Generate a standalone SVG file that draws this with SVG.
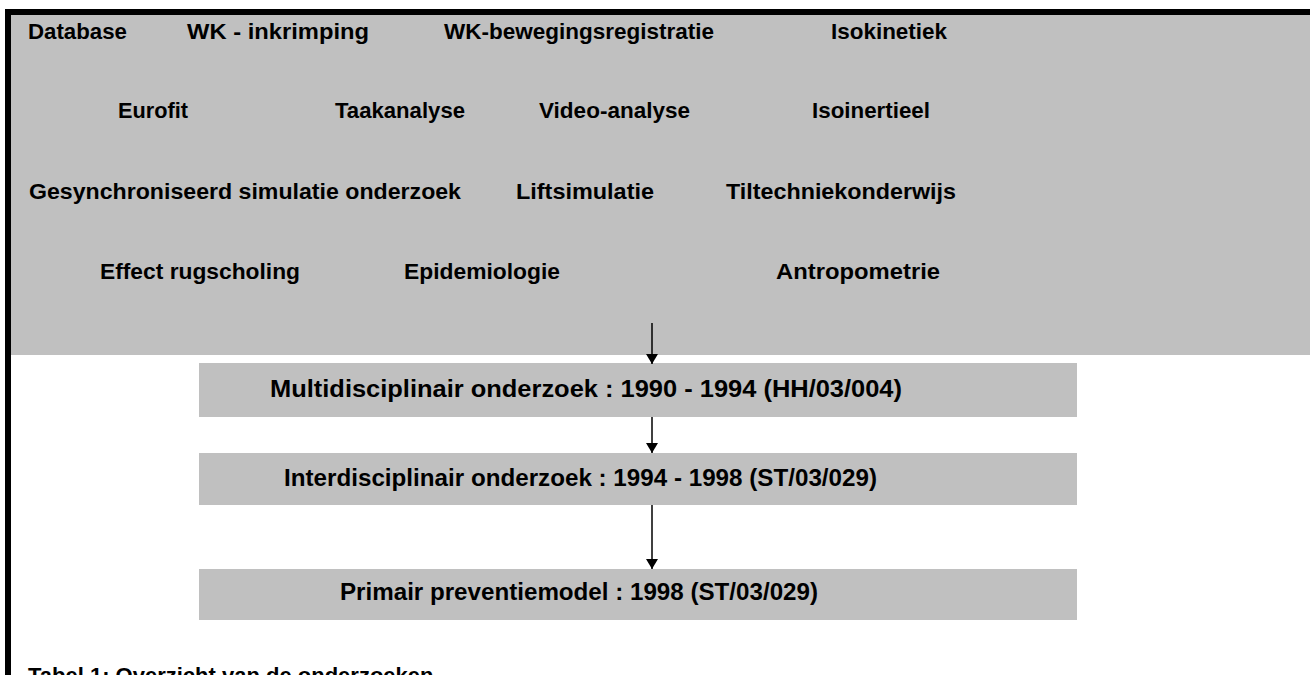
<svg xmlns="http://www.w3.org/2000/svg" width="1310" height="675" viewBox="0 0 1310 675">
<style>
.t{font-family:"Liberation Sans","Arial",sans-serif;font-size:22px;font-weight:bold;fill:#000}
.b{font-size:23px}
.g{fill:#c0c0c0}
.c{stroke:#000;stroke-width:1.5;fill:none}
</style>
<defs>
<marker id="ah" markerWidth="10" markerHeight="12" refX="10" refY="6" orient="auto" markerUnits="userSpaceOnUse" viewBox="0 0 10 12">
<path d="M0,0 L10,6 L0,12 Z" fill="#000"/>
</marker>
</defs>
<rect width="1310" height="675" fill="#fff"/>
<g id="panel">
<rect class="g" x="11" y="15" width="1299" height="340"/>
<rect x="5" y="9" width="1305" height="6" fill="#000"/>
<rect x="5" y="9" width="6" height="666" fill="#000"/>
</g>
<g id="topics">
<text class="t" x="28" y="39" textLength="99" lengthAdjust="spacingAndGlyphs">Database</text>
<text class="t" x="187" y="39" textLength="182" lengthAdjust="spacingAndGlyphs">WK - inkrimping</text>
<text class="t" x="444" y="39" textLength="270" lengthAdjust="spacingAndGlyphs">WK-bewegingsregistratie</text>
<text class="t" x="831" y="39" textLength="116" lengthAdjust="spacingAndGlyphs">Isokinetiek</text>
<text class="t" x="118" y="118" textLength="70" lengthAdjust="spacingAndGlyphs">Eurofit</text>
<text class="t" x="335" y="118" textLength="130" lengthAdjust="spacingAndGlyphs">Taakanalyse</text>
<text class="t" x="539" y="118" textLength="151" lengthAdjust="spacingAndGlyphs">Video-analyse</text>
<text class="t" x="812" y="118" textLength="118" lengthAdjust="spacingAndGlyphs">Isoinertieel</text>
<text class="t" x="29" y="199" textLength="432" lengthAdjust="spacingAndGlyphs">Gesynchroniseerd simulatie onderzoek</text>
<text class="t" x="516" y="199" textLength="138" lengthAdjust="spacingAndGlyphs">Liftsimulatie</text>
<text class="t" x="726" y="199" textLength="230" lengthAdjust="spacingAndGlyphs">Tiltechniekonderwijs</text>
<text class="t" x="100" y="279" textLength="200" lengthAdjust="spacingAndGlyphs">Effect rugscholing</text>
<text class="t" x="404" y="279" textLength="156" lengthAdjust="spacingAndGlyphs">Epidemiologie</text>
<text class="t" x="776" y="279" textLength="164" lengthAdjust="spacingAndGlyphs">Antropometrie</text>
</g>
<g id="box1">
<rect class="g" x="199" y="363" width="878" height="54"/>
<text class="t b" x="270" y="397" textLength="632" lengthAdjust="spacingAndGlyphs">Multidisciplinair onderzoek : 1990 - 1994 (HH/03/004)</text>
</g>
<g id="box2">
<rect class="g" x="199" y="453" width="878" height="52"/>
<text class="t b" x="284" y="486" textLength="593" lengthAdjust="spacingAndGlyphs">Interdisciplinair onderzoek : 1994 - 1998 (ST/03/029)</text>
</g>
<g id="box3">
<rect class="g" x="199" y="569" width="878" height="51"/>
<text class="t b" x="340" y="600" textLength="478" lengthAdjust="spacingAndGlyphs">Primair preventiemodel : 1998 (ST/03/029)</text>
</g>
<g id="connectors">
<line class="c" x1="652" y1="323" x2="652" y2="364" marker-end="url(#ah)"/>
<line class="c" x1="652" y1="417" x2="652" y2="453" marker-end="url(#ah)"/>
<line class="c" x1="652" y1="505" x2="652" y2="569" marker-end="url(#ah)"/>
</g>
<g id="caption">
<text class="t" x="28" y="683">Tabel 1: Overzicht van de onderzoeken</text>
</g>
</svg>
